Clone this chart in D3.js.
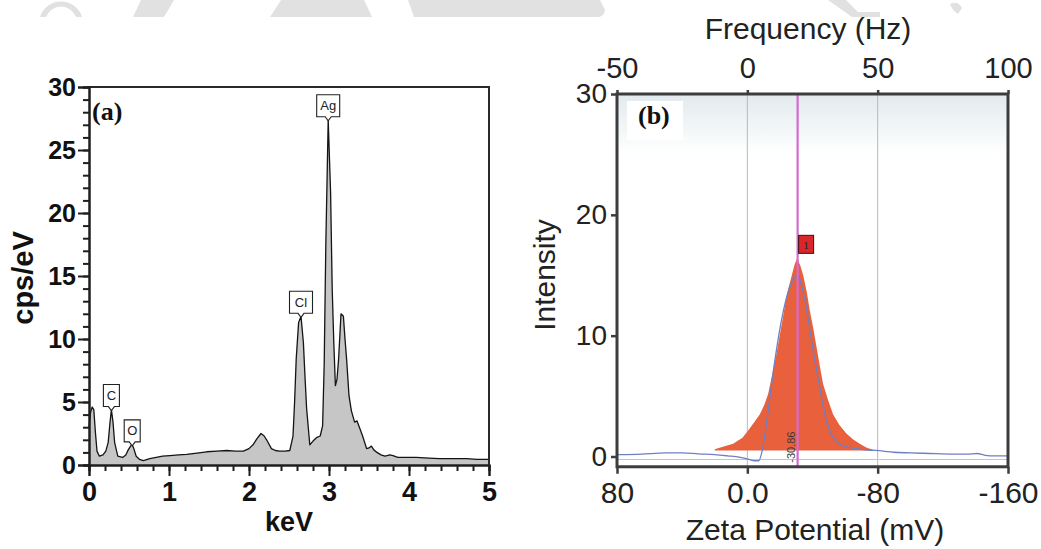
<!DOCTYPE html>
<html>
<head>
<meta charset="utf-8">
<script src="https://cdn.jsdelivr.net/npm/d3@7"></script>
<style>
  html, body { margin: 0; padding: 0; background: #fff; }
  svg { display: block; }
</style>
</head>
<body>
<svg id="fig" width="1041" height="549"></svg>
<script>
// ---------- (a) EDS spectrum ----------
const edsEnergy = [0.00, 0.02, 0.04, 0.06, 0.08, 0.10, 0.13, 0.175, 0.21, 0.24, 0.26, 0.28, 0.30, 0.32, 0.36, 0.42, 0.46, 0.49, 0.52, 0.54, 0.56, 0.59, 0.63, 0.68, 0.76, 0.84, 0.92, 1.01, 1.12, 1.22, 1.35, 1.47, 1.60, 1.72, 1.83, 1.93, 2.00, 2.05, 2.10, 2.15, 2.19, 2.22, 2.28, 2.33, 2.38, 2.45, 2.51, 2.55, 2.57, 2.59, 2.62, 2.65, 2.68, 2.70, 2.72, 2.76, 2.80, 2.85, 2.89, 2.92, 2.94, 2.96, 2.99, 3.02, 3.04, 3.06, 3.08, 3.10, 3.12, 3.15, 3.18, 3.20, 3.22, 3.25, 3.28, 3.32, 3.35, 3.38, 3.42, 3.47, 3.50, 3.53, 3.56, 3.60, 3.65, 3.70, 3.76, 3.80, 3.86, 3.95, 4.09, 4.25, 4.38, 4.55, 4.72, 4.85, 5.00];
const edsCounts = [3.0, 4.2, 4.6, 4.4, 2.6, 1.1, 0.7, 0.8, 1.1, 1.8, 3.2, 4.4, 3.4, 1.8, 0.7, 0.6, 0.8, 1.2, 1.5, 1.6, 1.3, 0.7, 0.45, 0.35, 0.5, 0.6, 0.7, 0.75, 0.8, 0.85, 0.95, 1.05, 1.1, 1.15, 1.1, 1.1, 1.3, 1.6, 2.1, 2.5, 2.3, 2.0, 1.3, 1.15, 1.1, 1.1, 1.15, 2.3, 5.0, 8.4, 11.3, 11.8, 9.7, 7.0, 4.5, 1.6, 1.9, 2.2, 2.3, 3.1, 8.0, 17.4, 27.4, 21.6, 14.0, 9.7, 6.3, 6.8, 8.4, 12.0, 11.8, 10.0, 8.4, 5.5, 4.3, 3.4, 3.5, 3.0, 2.3, 1.3, 1.35, 1.5, 1.2, 1.0, 0.8, 0.7, 0.8, 0.75, 0.6, 0.6, 0.6, 0.55, 0.5, 0.5, 0.5, 0.45, 0.45];

const elementNames  = ["C", "O", "Cl", "Ag"];
const elementEnergy = [0.28, 0.54, 2.65, 2.99];
const elementCounts = [4.4, 1.6, 11.8, 27.4];

const edsMajorTicksX = [0, 1, 2, 3, 4, 5];
const edsMajorTicksY = [0, 5, 10, 15, 20, 25, 30];

// ---------- (b) zeta potential distribution ----------
const zetaMv        = [80, 65, 50, 40, 30, 20, 12, 5, 0, -4, -7, -9, -12, -16, -21, -26, -30.5, -35, -40, -44.5, -48.5, -52.5, -58.5, -65, -72, -79, -90, -100, -112, -125, -135, -141, -146, -152, -160];
const zetaIntensity = [0.15, 0.2, 0.3, 0.3, 0.22, 0.15, 0.05, -0.05, -0.2, -0.35, -0.35, 0.4, 3.0, 7.1, 11.3, 14.0, 15.0, 13.2, 9.1, 5.7, 3.0, 1.6, 0.9, 0.7, 0.55, 0.5, 0.35, 0.3, 0.25, 0.2, 0.2, 0.25, 0.1, 0.05, 0.05];

const peakMv        = [20, 15, 8.7, 3, -0.5, -4, -7.7, -10.5, -12.8, -15, -17.9, -20.5, -23, -25, -27.1, -29, -30.6, -32.5, -34.3, -36.5, -38.3, -40.5, -42.4, -44.5, -46.5, -49.5, -52.6, -56.5, -60.8, -65, -69, -73, -77];
const peakIntensity = [0.6, 0.8, 1.05, 1.55, 2.15, 2.8, 3.5, 4.3, 5.2, 6.6, 8.5, 10.5, 12.4, 13.8, 14.9, 15.9, 16.4, 15.8, 15.0, 13.6, 12.1, 10.6, 9.1, 7.5, 6.0, 4.7, 3.5, 2.6, 1.9, 1.4, 1.05, 0.75, 0.55];
const peakBase = 0.5;
const peakCenterMv = -30.86;
const peakNumber = "1";

const zetaTicks = [80, 0, -80, -160];
const zetaTickLabels = ["80", "0.0", "-80", "-160"];
const freqTicks = [-50, 0, 50, 100];
const freqTickLabels = ["-50", "0", "50", "100"];
const intensityTicks = [0, 10, 20, 30];
const zetaGrid = [0, -80];

const svg = d3.select("#fig");
const sans = "'Liberation Sans', Arial, sans-serif";
const serif = "'Liberation Serif', 'Times New Roman', serif";

// faint watermark fragments along the top edge
const wm = svg.append("g").attr("fill", "#e1e1e1");
wm.append("path").attr("d", "M40,17 A22,22 0 0 1 82,17 L76,17 A16,16 0 0 0 46,17 Z");
wm.append("path").attr("d", "M141,0 L174,0 L164,17 L133,17 Z");
wm.append("path").attr("d", "M281,0 L364,0 Q368,8 372,17 L270,17 Z");
wm.append("path").attr("d", "M408,0 L600,0 L605,10 Q604,17 598,17 L414,17 Z");
wm.append("path").attr("d", "M828,0 L846,0 L858,12 L880,12 L880,17 L852,17 Z");
wm.append("path").attr("d", "M950,4 Q958,0 962,8 L958,14 Q952,10 950,4 Z");

// ================= panel (a) =================
const xa = d3.scaleLinear().domain([0, 5]).range([89, 489]);
const ya = d3.scaleLinear().domain([0, 30]).range([465, 87]);
const ga = svg.append("g");

const eds = edsEnergy.map((e, i) => [e, edsCounts[i]]);
ga.append("path").datum(eds)
  .attr("fill", "#c6c6c6")
  .attr("d", d3.area().x(d => xa(d[0])).y0(ya(0)).y1(d => ya(d[1])));
ga.append("path").datum(eds)
  .attr("fill", "none").attr("stroke", "#141414").attr("stroke-width", 1.3)
  .attr("stroke-linejoin", "round")
  .attr("d", d3.line().x(d => xa(d[0])).y(d => ya(d[1])));

// frame
ga.append("path")
  .attr("d", `M${xa(0)},${ya(30)}H${xa(5)}V${ya(0)}`)
  .attr("fill", "none").attr("stroke", "#2a2a2a").attr("stroke-width", 2);

// axes: minor then major ticks
const axA_xMinor = d3.axisBottom(xa).tickValues(d3.range(0, 5.01, 0.2)).tickSize(6).tickFormat("");
const axA_xMajor = d3.axisBottom(xa).tickValues(edsMajorTicksX).tickSize(11).tickFormat(d3.format("d")).tickPadding(6);
const axA_yMinor = d3.axisLeft(ya).tickValues(d3.range(0, 30.1, 1)).tickSize(6).tickFormat("");
const axA_yMajor = d3.axisLeft(ya).tickValues(edsMajorTicksY).tickSize(11).tickFormat(d3.format("d")).tickPadding(2);

function styleAxis(g, color, width) {
  g.selectAll("path.domain").attr("stroke", color).attr("stroke-width", width);
  g.selectAll(".tick line").attr("stroke", color).attr("stroke-width", width);
}
const gxm = ga.append("g").attr("transform", `translate(0,${ya(0)})`).call(axA_xMinor);
const gxM = ga.append("g").attr("transform", `translate(0,${ya(0)})`).call(axA_xMajor);
const gym = ga.append("g").attr("transform", `translate(${xa(0)},0)`).call(axA_yMinor);
const gyM = ga.append("g").attr("transform", `translate(${xa(0)},0)`).call(axA_yMajor);
[gxm, gxM, gym, gyM].forEach(g => styleAxis(g, "#1e1e1e", 2));
gxM.selectAll("text").attr("font-family", sans).attr("font-weight", "bold")
  .attr("font-size", 27).attr("fill", "#111");
gyM.selectAll("text").attr("font-family", sans).attr("font-weight", "bold")
  .attr("font-size", 25).attr("fill", "#111");

ga.append("text").attr("x", 289).attr("y", 531)
  .attr("text-anchor", "middle").attr("font-family", sans).attr("font-weight", "bold")
  .attr("font-size", 27).attr("fill", "#111").text("keV");
ga.append("text").attr("transform", "translate(33,278) rotate(-90)")
  .attr("text-anchor", "middle").attr("font-family", sans).attr("font-weight", "bold")
  .attr("font-size", 29).attr("fill", "#111").text("cps/eV");
ga.append("text").attr("x", 92).attr("y", 120)
  .attr("font-family", serif).attr("font-weight", "bold")
  .attr("font-size", 26).attr("fill", "#111").text("(a)");

// element markers
elementNames.forEach((name, i) => {
  const px = xa(elementEnergy[i]);
  const py = ya(elementCounts[i]);
  const w = name.length > 1 ? 23 : 16, h = 22;
  const bottom = py - 3;
  const lg = ga.append("g");
  lg.append("path")
    .attr("d", `M${px - w / 2},${bottom - h}H${px + w / 2}V${bottom}H${px + 3}L${px},${py + 1}L${px - 3},${bottom}H${px - w / 2}Z`)
    .attr("fill", "#fff").attr("stroke", "#222").attr("stroke-width", 1.1);
  lg.append("text").attr("x", px).attr("y", bottom - h / 2 + 4.5)
    .attr("text-anchor", "middle").attr("font-family", sans)
    .attr("font-size", 13).attr("fill", "#222").text(name);
});

// ================= panel (b) =================
const xb = d3.scaleLinear().domain([80, -160]).range([617, 1008]);
const xf = d3.scaleLinear().domain([-50, 100]).range([617, 1008]);
const yb = d3.scaleLinear().domain([0, 30]).range([456.5, 94]);
const yMin = -0.85;
const gb = svg.append("g");

const defs = svg.append("defs");
const grad = defs.append("linearGradient").attr("id", "plotShade")
  .attr("x1", 0).attr("y1", 0).attr("x2", 0).attr("y2", 1);
grad.append("stop").attr("offset", 0).attr("stop-color", "#e2eaed");
grad.append("stop").attr("offset", 0.16).attr("stop-color", "#ffffff");
grad.append("stop").attr("offset", 1).attr("stop-color", "#ffffff");

gb.append("rect")
  .attr("x", xb(80)).attr("y", yb(30))
  .attr("width", xb(-160) - xb(80)).attr("height", yb(yMin) - yb(30))
  .attr("fill", "url(#plotShade)");

// label backdrop
gb.append("rect").attr("x", 627).attr("y", 101).attr("width", 56).attr("height", 39).attr("fill", "#fff");

// grid lines
gb.selectAll("line.grid").data(zetaGrid).join("line")
  .attr("x1", d => xb(d)).attr("x2", d => xb(d))
  .attr("y1", yb(30)).attr("y2", yb(yMin))
  .attr("stroke", "#b9b9b9").attr("stroke-width", 1);
gb.append("line")
  .attr("x1", xb(80)).attr("x2", xb(-160))
  .attr("y1", yb(-0.25)).attr("y2", yb(-0.25))
  .attr("stroke", "#c4c4c4").attr("stroke-width", 1);

// distribution peak
const peak = peakMv.map((m, i) => [m, peakIntensity[i]]);
gb.append("path").datum(peak)
  .attr("fill", "#e8603c")
  .attr("d", d3.area().x(d => xb(d[0])).y0(yb(peakBase)).y1(d => yb(d[1])));

// measured curve
const zeta = zetaMv.map((m, i) => [m, zetaIntensity[i]]);
gb.append("path").datum(zeta)
  .attr("fill", "none").attr("stroke", "#6f7fc4").attr("stroke-width", 1.3)
  .attr("d", d3.line().curve(d3.curveMonotoneX).x(d => xb(d[0])).y(d => yb(d[1])));

// peak position marker
gb.append("line")
  .attr("x1", xb(peakCenterMv)).attr("x2", xb(peakCenterMv))
  .attr("y1", yb(30)).attr("y2", yb(yMin))
  .attr("stroke", "#d56acf").attr("stroke-width", 2.2);
gb.append("text")
  .attr("transform", `translate(${xb(peakCenterMv) - 3},${yb(yMin) - 4}) rotate(-90)`)
  .attr("font-family", sans).attr("font-size", 11).attr("fill", "#3a3a3a")
  .text(d3.format(".2f")(peakCenterMv).replace("\u2212", "-"));

const peakTop = d3.max(peakIntensity);
gb.append("rect")
  .attr("x", xb(peakCenterMv) + 1).attr("y", yb(peakTop) - 23)
  .attr("width", 15).attr("height", 18)
  .attr("fill", "#d8262a").attr("stroke", "#3a1010").attr("stroke-width", 1);
gb.append("text")
  .attr("x", xb(peakCenterMv) + 8.5).attr("y", yb(peakTop) - 9.5)
  .attr("text-anchor", "middle").attr("font-family", serif)
  .attr("font-size", 11).attr("fill", "#222").text(peakNumber);

// frame
gb.append("rect")
  .attr("x", xb(80)).attr("y", yb(30))
  .attr("width", xb(-160) - xb(80)).attr("height", yb(yMin) - yb(30))
  .attr("fill", "none").attr("stroke", "#3d3d3d").attr("stroke-width", 3);

// axes
const axB_left = d3.axisLeft(yb).tickValues(intensityTicks).tickSize(6).tickPadding(4).tickFormat(d3.format("d"));
const axB_bottom = d3.axisBottom(xb).tickValues(zetaTicks).tickSize(7).tickPadding(8)
  .tickFormat((d, i) => zetaTickLabels[i]);
const axB_top = d3.axisTop(xf).tickValues(freqTicks).tickSize(4).tickPadding(12)
  .tickFormat((d, i) => freqTickLabels[i]);

const gbl = gb.append("g").attr("transform", `translate(${xb(80)},0)`).call(axB_left);
const gbb = gb.append("g").attr("transform", `translate(0,${yb(yMin)})`).call(axB_bottom);
const gbt = gb.append("g").attr("transform", `translate(0,${yb(30)})`).call(axB_top);
[gbl, gbb, gbt].forEach(g => {
  g.select("path.domain").remove();
  g.selectAll(".tick line").attr("stroke", "#3d3d3d").attr("stroke-width", 2.5);
  g.selectAll("text").attr("font-family", sans).attr("fill", "#222");
});
gbl.selectAll("text").attr("font-size", 28);
gbb.selectAll("text").attr("font-size", 30);
gbt.selectAll("text").attr("font-size", 29);

gb.append("text").attr("x", 808).attr("y", 39)
  .attr("text-anchor", "middle").attr("font-family", sans)
  .attr("font-size", 30).attr("fill", "#222").text("Frequency (Hz)");
gb.append("text").attr("x", 815).attr("y", 540)
  .attr("text-anchor", "middle").attr("font-family", sans)
  .attr("font-size", 30).attr("fill", "#222").text("Zeta Potential (mV)");
gb.append("text").attr("transform", "translate(555,275) rotate(-90)")
  .attr("text-anchor", "middle").attr("font-family", sans)
  .attr("font-size", 30).attr("fill", "#222").text("Intensity");
gb.append("text").attr("x", 638).attr("y", 124)
  .attr("font-family", serif).attr("font-weight", "bold")
  .attr("font-size", 26).attr("fill", "#111").text("(b)");
</script>
</body>
</html>
